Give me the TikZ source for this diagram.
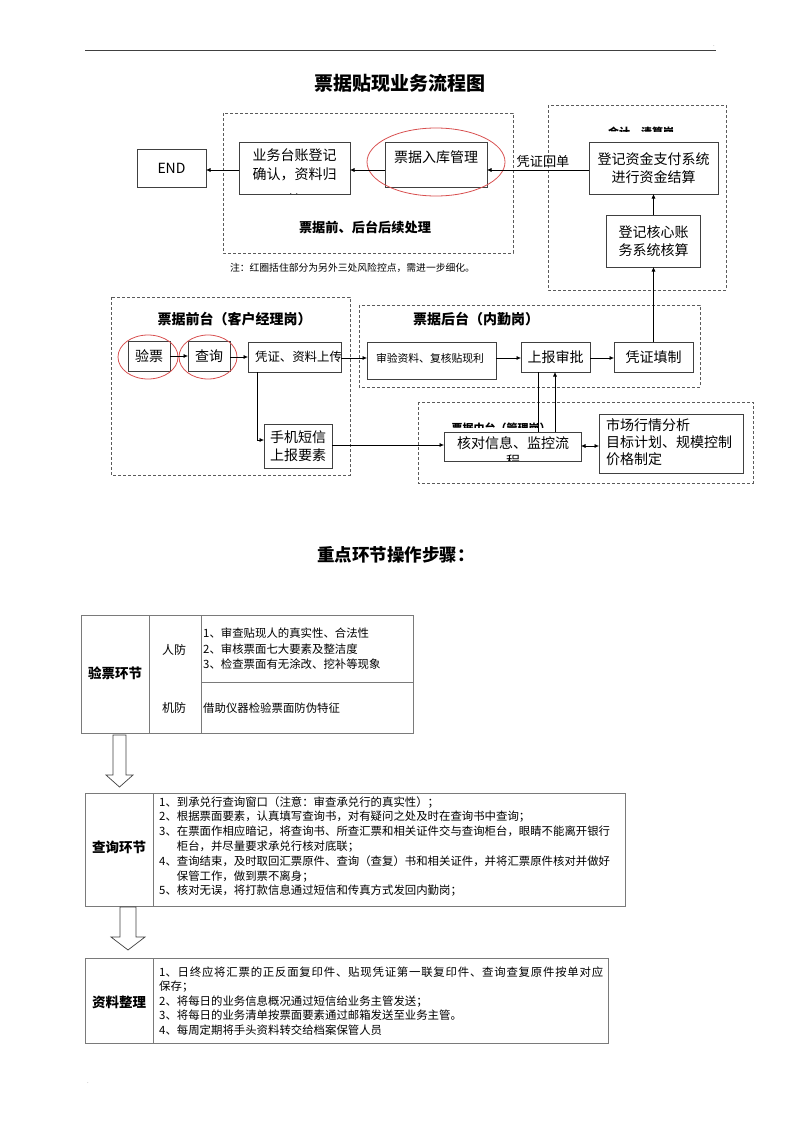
\documentclass[tikz,border=0pt]{standalone}
\usepackage{fontspec}
\setmainfont{Noto Sans CJK SC}
\usetikzlibrary{arrows.meta,shapes.geometric}
\definecolor{boxgray}{HTML}{404040}
\definecolor{dashgray}{HTML}{5A5A5A}
\definecolor{ringred}{HTML}{D85050}
\definecolor{tabgray}{HTML}{7A7A7A}
\newcommand\fsz[2]{\fontsize{#1}{#2}\selectfont}
% inter-character stretch for justified lines
\newcount\cjkcnt
\cjkcnt="3000 \loop \XeTeXcharclass\cjkcnt=7 \advance\cjkcnt by 1 \ifnum\cjkcnt<"3040 \repeat
\cjkcnt="4E00 \loop \XeTeXcharclass\cjkcnt=7 \advance\cjkcnt by 1 \ifnum\cjkcnt<"A000 \repeat
\cjkcnt="FF00 \loop \XeTeXcharclass\cjkcnt=7 \advance\cjkcnt by 1 \ifnum\cjkcnt<"FFF0 \repeat
\XeTeXinterchartoks 7 7 = {\hskip 0pt plus 1pt\relax}
\newcommand\jline[2]{\hbox to #1{\XeTeXinterchartokenstate=1 #2}}
\begin{document}
\begin{tikzpicture}[x=1pt,y=-1pt,
  box/.style={draw=boxgray,line width=0.8pt,fill=white,inner sep=0pt,outer sep=0pt},
  grp/.style={draw=dashgray,line width=0.7pt,dash pattern=on 3pt off 2pt},
  ring/.style={draw=ringred,line width=0.8pt,ellipse,inner sep=0pt},
  arr/.style={draw=black,line width=0.6pt,-{Latex[length=4.5pt,width=4pt]}},
  dblarr/.style={draw=black,line width=0.6pt,{Latex[length=4.5pt,width=4pt]}-{Latex[length=4.5pt,width=4pt]}},
  plain/.style={draw=black,line width=0.6pt},
  lbl/.style={inner sep=0pt,font=\bfseries\fsz{14}{16}},
  txt/.style={inner sep=0pt,align=center,font=\fsz{14}{18.5}},
  tab/.style={draw=tabgray,line width=0.8pt},
  tabtxt/.style={inner sep=0pt,align=left,anchor=west,font=\fsz{11.4}{14.8}},
  tabhead/.style={inner sep=0pt,font=\bfseries\fsz{13.5}{16}},
  hollow/.style={draw=boxgray,line width=0.7pt,fill=white,line join=miter},
]
\useasboundingbox (0,0) rectangle (800,1132);

% page marks
\draw[draw=boxgray,line width=0.6pt] (85,50) -- (716,50);
\node[inner sep=0pt,font=\fsz{6}{7},text=gray] (dot1) at (714,46) {.};
\node[inner sep=0pt,font=\fsz{6}{7},text=gray] (dot2) at (88,1083) {.};

% title
\node[inner sep=0pt,font=\bfseries\fsz{19}{22}] (title) at (400,83) {票据贴现业务流程图};

% ---------- top groups ----------
\draw[grp] (223,113) rectangle (513,253);
\draw[grp] (548,105) rectangle (726,290);
\node[lbl,font=\bfseries\fsz{13.2}{15}] (hxlbl) at (365,227) {票据前、后台后续处理};
\node[inner sep=0pt,font=\fsz{9.8}{11}] (note) at (352.5,268) {注：红圈括住部分为另外三处风险控点，需进一步细化。};

\begin{scope}
  \clip (548,105) rectangle (726,131.5);
  \node[inner sep=0pt,font=\bfseries\fsz{11}{12}] (kjlbl) at (641,132) {会计、清算岗};
\end{scope}

\node[box,minimum width=69pt,minimum height=38pt,txt] (endb) at (171.5,168) {END};
\node[box,minimum width=111pt,minimum height=52pt] (yw) at (294.5,168) {};
\begin{scope}
  \clip (239.4,142.4) rectangle (349.6,193.6);
  \node[txt,anchor=north] (ywt) at (294.5,148.5) {业务台账登记\\确认，资料归\\[8pt]档};
\end{scope}
\node[box,minimum width=102pt,minimum height=45pt] (rk) at (436,164.5) {};
\node[txt] (rkt) at (436,157) {票据入库管理};
\node[ring,minimum width=138pt,minimum height=68pt] (ring1) at (436,162) {};

\node[box,minimum width=129pt,minimum height=52pt,txt] (zj) at (653.5,168) {登记资金支付系统\\进行资金结算};
\node[box,minimum width=94pt,minimum height=52pt,txt] (hx) at (653.5,241) {登记核心账\\务系统核算};
\node[inner sep=0pt,font=\fsz{13.2}{15}] (hdlbl) at (543,161.5) {凭证回单};

% ---------- middle groups ----------
\draw[grp] (111,297) rectangle (350,475);
\draw[grp] (359,305) rectangle (700,387);
\draw[grp] (418,402) rectangle (753,483);
\node[lbl] (qtlbl) at (234.5,319) {票据前台（客户经理岗）};
\node[lbl] (htlbl) at (476,319) {票据后台（内勤岗）};
\begin{scope}
  \clip (418,402) rectangle (753,427);
  \node[inner sep=0pt,font=\bfseries\fsz{11}{12}] (ztlbl) at (501,428) {票据中台（管理岗）};
\end{scope}

\node[box,minimum width=42pt,minimum height=30pt,txt] (yp) at (149,356) {验票};
\node[box,minimum width=42pt,minimum height=30pt,txt] (cx) at (209,356) {查询};
\node[ring,minimum width=60pt,minimum height=44pt] (ring2) at (148,357) {};
\node[ring,minimum width=58pt,minimum height=44pt] (ring3) at (208,357) {};
\node[box,minimum width=93pt,minimum height=30pt] (pz) at (294.5,357) {};
\node[inner sep=0pt,font=\fsz{12.4}{15}] (pzt) at (298.5,357) {凭证、资料上传};
\node[box,minimum width=68pt,minimum height=44pt,txt] (sj) at (298,446) {手机短信\\上报要素};

\node[box,minimum width=129pt,minimum height=37pt] (sy) at (431.5,360.5) {};
\node[inner sep=0pt,font=\fsz{10.8}{12}] (syt) at (430,358) {审验资料、复核贴现利};
\node[box,minimum width=69pt,minimum height=30pt,txt] (sb) at (555.5,357) {上报审批};
\node[box,minimum width=79pt,minimum height=30pt,txt] (pt) at (653.5,357) {凭证填制};

\node[box,minimum width=137pt,minimum height=29pt] (hd) at (512.5,446.5) {};
\begin{scope}
  \clip (444.4,432.4) rectangle (580.6,460.6);
  \node[txt,font=\fsz{14}{18}] (hdt) at (513,452) {核对信息、监控流\\程};
\end{scope}
\node[box,minimum width=144pt,minimum height=59pt] (sc) at (671,443.5) {};
\node[inner sep=0pt,align=left,anchor=west,font=\fsz{14}{17}] (sct) at (606,442) {市场行情分析\\目标计划、规模控制\\价格制定};

% ---------- connectors ----------
\draw[arr] (yw.west |- 0,170) -- (endb.east |- 0,170);
\draw[arr] (rk.west |- 0,170) -- (yw.east |- 0,170);
\draw[arr] (zj.west |- 0,170) -- (rk.east |- 0,170);
\draw[arr] (hx.north) -- (zj.south);
\draw[arr] (pt.north) -- (hx.south);
\draw[arr] (yp.east) -- (cx.west);
\draw[arr] (cx.east |- 0,357) -- (pz.west |- 0,357);
\draw[arr] (pz.east |- 0,358) -- (sy.west |- 0,358);
\draw[arr] (pz.south -| 257,0) |- (sj.west |- 0,440);
\draw[arr] (sy.east |- 0,358) -- (sb.west |- 0,358);
\draw[arr] (sb.east |- 0,358) -- (pt.west |- 0,358);
\draw[arr] (sj.east |- 0,445) -- (hd.west |- 0,445);
\draw[plain] (sb.south -| 538,0) -- (hd.north -| 538,0);
\draw[arr] (hd.north -| 555,0) -- (sb.south -| 555,0);
\draw[dblarr] (hd.east |- 0,446) -- (sc.west |- 0,446);

% ---------- key steps ----------
\node[inner sep=0pt,font=\bfseries\fsz{17.5}{20}] (steps) at (396,555) {重点环节操作步骤：};

% table 1
\draw[tab] (81,615) rectangle (413,733);
\draw[tab] (149,615) -- (149,733);
\draw[tab] (201,615) -- (201,733);
\draw[tab] (201,682) -- (413,682);
\node[tabhead] (t1h) at (115,673) {验票环节};
\node[inner sep=0pt,font=\fsz{12}{14}] (rf) at (174,650) {人防};
\node[inner sep=0pt,font=\fsz{12}{14}] (jf) at (174,708) {机防};
\node[tabtxt,font=\fsz{11.4}{15.5}] (rfc) at (203,649) {1、审查贴现人的真实性、合法性\\2、审核票面七大要素及整洁度\\3、检查票面有无涂改、挖补等现象};
\node[tabtxt] (jfc) at (203,708) {借助仪器检验票面防伪特征};

% arrow 1
\draw[hollow] (113,735) -- (126,735) -- (126,775) -- (133,775) -- (119.5,787) -- (106,775) -- (113,775) -- cycle;

% table 2
\draw[tab] (85,793) rectangle (625,906);
\draw[tab] (153,793) -- (153,906);
\node[tabhead] (t2h) at (119,847) {查询环节};
\node[tabtxt] (t2c) at (159,846.5) {1、到承兑行查询窗口（注意：审查承兑行的真实性）；\\
2、根据票面要素，认真填写查询书，对有疑问之处及时在查询书中查询；\\
3、在票面作相应暗记，将查询书、所查汇票和相关证件交与查询柜台，眼睛不能离开银行\\
\hspace*{1.55em}柜台，并尽量要求承兑行核对底联；\\
4、查询结束，及时取回汇票原件、查询（查复）书和相关证件，并将汇票原件核对并做好\\
\hspace*{1.55em}保管工作，做到票不离身；\\
5、核对无误，将打款信息通过短信和传真方式发回内勤岗；};

% arrow 2
\draw[hollow] (120,907) -- (136,907) -- (136,937) -- (145,937) -- (128,950) -- (111,937) -- (120,937) -- cycle;

% table 3
\draw[tab] (85,958) rectangle (608,1043);
\draw[tab] (153,958) -- (153,1043);
\node[tabhead] (t3h) at (119,1002) {资料整理};
\node[tabtxt,font=\fsz{11.4}{14.5}] (t3c) at (159,1001) {\jline{444pt}{1、日终应将汇票的正反面复印件、贴现凭证第一联复印件、查询查复原件按单对应}\\
保存；\\
2、将每日的业务信息概况通过短信给业务主管发送；\\
3、将每日的业务清单按票面要素通过邮箱发送至业务主管。\\
4、每周定期将手头资料转交给档案保管人员};
\end{tikzpicture}
\end{document}
